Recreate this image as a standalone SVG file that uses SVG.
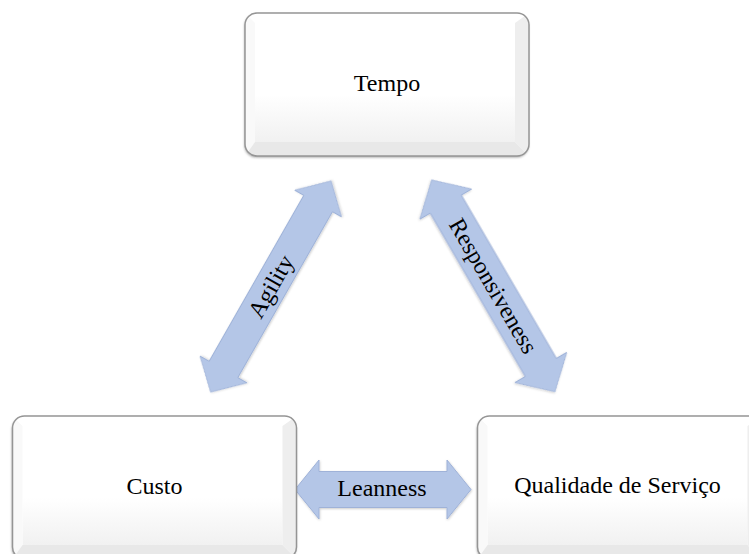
<svg xmlns="http://www.w3.org/2000/svg" xmlns:xlink="http://www.w3.org/1999/xlink" width="749" height="554" viewBox="0 0 749 554">
  <style>
    .lbl { font-family: "Liberation Serif", "Times New Roman", serif; font-size: 24px; fill: #000000; }
    .arrow { fill: #b4c6e7; stroke: #9fb2d8; stroke-width: 1; stroke-linejoin: miter; }
    .edge { fill: none; stroke: #959595; stroke-width: 1.5; }
  </style>
  <defs>
    <linearGradient id="face" x1="0" y1="0" x2="0" y2="1">
      <stop offset="0" stop-color="#ffffff"/>
      <stop offset="0.6" stop-color="#ffffff"/>
      <stop offset="1" stop-color="#f1f1f1"/>
    </linearGradient>
    <filter id="shadow" x="-10%" y="-10%" width="120%" height="125%">
      <feDropShadow dx="-0.5" dy="1.5" stdDeviation="1.2" flood-color="#000000" flood-opacity="0.35"/>
    </filter>
    <filter id="ashadow" x="-10%" y="-10%" width="120%" height="120%">
      <feDropShadow dx="0.5" dy="1" stdDeviation="0.8" flood-color="#000000" flood-opacity="0.2"/>
    </filter>
    <clipPath id="boxclip">
      <rect x="0" y="0" width="284" height="143" rx="12" ry="12"/>
    </clipPath>
    <g id="box">
      <rect x="0" y="0" width="284" height="143" rx="12" ry="12" fill="#ffffff" filter="url(#shadow)"/>
      <g clip-path="url(#boxclip)">
        <rect x="10" y="10" width="260" height="119" fill="url(#face)"/>
        <polygon points="0,0 284,0 270,10 10,10" fill="#ffffff"/>
        <polygon points="0,0 10,10 10,129 0,143" fill="#f9f9f9"/>
        <polygon points="284,0 284,143 270,129 270,10" fill="#eeeeee"/>
        <polygon points="0,143 10,129 270,129 284,143" fill="#e8e8e8"/>
      </g>
      <rect class="edge" x="0" y="0" width="284" height="143" rx="12" ry="12"/>
    </g>
  </defs>

  <g id="connectors">
    <g id="agility" transform="translate(270.8,286.5) rotate(-60.3)">
      <path class="arrow" filter="url(#ashadow)" d="M -121.5,0 L -95.5,-27 L -95.5,-16.5 L 95.5,-16.5 L 95.5,-27 L 121.5,0 L 95.5,27 L 95.5,16.5 L -95.5,16.5 L -95.5,27 Z"/>
      <text class="lbl" x="0" y="8" text-anchor="middle">Agility</text>
    </g>
    <g id="responsiveness" transform="translate(493.3,285.8) rotate(59.8)">
      <path class="arrow" filter="url(#ashadow)" d="M -122.5,0 L -94.5,-30 L -94.5,-18 L 94.5,-18 L 94.5,-30 L 122.5,0 L 94.5,30 L 94.5,18 L -94.5,18 L -94.5,30 Z"/>
      <text class="lbl" x="0" y="8" text-anchor="middle">Responsiveness</text>
    </g>
    <g id="leanness" transform="translate(383,489.5)">
      <path class="arrow" filter="url(#ashadow)" d="M -88,0 L -64,-29.5 L -64,-18 L 64,-18 L 64,-29.5 L 88,0 L 64,29.5 L 64,18 L -64,18 L -64,29.5 Z"/>
      <text class="lbl" x="-1" y="6" text-anchor="middle">Leanness</text>
    </g>
  </g>

  <g id="node-tempo" transform="translate(245,13)">
    <use xlink:href="#box"/>
    <text class="lbl" x="142" y="78" text-anchor="middle">Tempo</text>
  </g>
  <g id="node-custo" transform="translate(12.5,416)">
    <use xlink:href="#box"/>
    <text class="lbl" x="142" y="78" text-anchor="middle">Custo</text>
  </g>
  <g id="node-qualidade" transform="translate(477.5,416)">
    <use xlink:href="#box"/>
    <text class="lbl" x="140" y="77" text-anchor="middle">Qualidade de Serviço</text>
  </g>
</svg>
